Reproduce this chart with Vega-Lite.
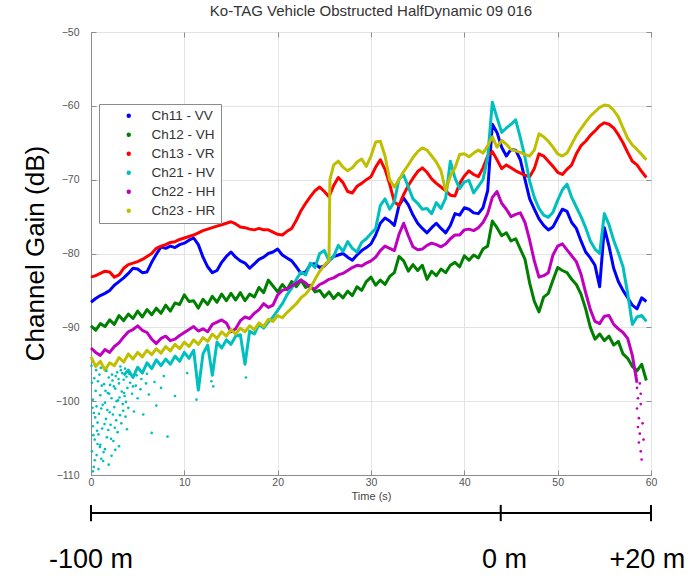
{
"$schema":"https://vega.github.io/schema/vega-lite/v6.json",
"width":560,"height":443,
"autosize":{"type":"none"},
"padding":{"left":91,"top":32,"right":39,"bottom":103},
"background":"white",
"title":{"text":"Ko-TAG Vehicle Obstructed HalfDynamic 09 016","fontSize":15,"font":"Liberation Sans","fontWeight":"normal","color":"#333333","frame":"group","anchor":"middle","offset":12,"baseline":"alphabetic","dy":16},
"config":{"view":{"stroke":"#8c8c8c","strokeWidth":1}},
"datasets":{
"lines":[
{"s":"Ch11 - VV","t":0,"g":-86.6},{"s":"Ch11 - VV","t":0.5,"g":-86.1},{"s":"Ch11 - VV","t":1,"g":-85.7},{"s":"Ch11 - VV","t":1.5,"g":-85.4},{"s":"Ch11 - VV","t":2,"g":-85.0},{"s":"Ch11 - VV","t":2.5,"g":-84.3},{"s":"Ch11 - VV","t":3,"g":-83.8},{"s":"Ch11 - VV","t":3.5,"g":-83.3},{"s":"Ch11 - VV","t":4,"g":-82.7},{"s":"Ch11 - VV","t":4.5,"g":-82.0},{"s":"Ch11 - VV","t":5,"g":-82.1},{"s":"Ch11 - VV","t":5.5,"g":-82.6},{"s":"Ch11 - VV","t":6,"g":-82.5},{"s":"Ch11 - VV","t":6.5,"g":-81.2},{"s":"Ch11 - VV","t":7,"g":-80.1},{"s":"Ch11 - VV","t":7.5,"g":-79.1},{"s":"Ch11 - VV","t":8,"g":-79.3},{"s":"Ch11 - VV","t":8.5,"g":-79.0},{"s":"Ch11 - VV","t":9,"g":-79.2},{"s":"Ch11 - VV","t":9.5,"g":-78.8},{"s":"Ch11 - VV","t":10,"g":-78.6},{"s":"Ch11 - VV","t":10.5,"g":-78.2},{"s":"Ch11 - VV","t":11,"g":-77.9},{"s":"Ch11 - VV","t":11.5,"g":-78.8},{"s":"Ch11 - VV","t":12,"g":-80.5},{"s":"Ch11 - VV","t":12.5,"g":-81.8},{"s":"Ch11 - VV","t":13,"g":-82.6},{"s":"Ch11 - VV","t":13.5,"g":-82.3},{"s":"Ch11 - VV","t":14,"g":-81.2},{"s":"Ch11 - VV","t":14.5,"g":-80.4},{"s":"Ch11 - VV","t":15,"g":-79.8},{"s":"Ch11 - VV","t":15.5,"g":-80.5},{"s":"Ch11 - VV","t":16,"g":-81.0},{"s":"Ch11 - VV","t":16.5,"g":-81.3},{"s":"Ch11 - VV","t":17,"g":-82.0},{"s":"Ch11 - VV","t":17.5,"g":-81.4},{"s":"Ch11 - VV","t":18,"g":-80.8},{"s":"Ch11 - VV","t":18.5,"g":-80.5},{"s":"Ch11 - VV","t":19,"g":-80.0},{"s":"Ch11 - VV","t":19.5,"g":-79.8},{"s":"Ch11 - VV","t":20,"g":-79.4},{"s":"Ch11 - VV","t":20.5,"g":-80.2},{"s":"Ch11 - VV","t":21,"g":-80.6},{"s":"Ch11 - VV","t":21.5,"g":-81.0},{"s":"Ch11 - VV","t":22,"g":-81.8},{"s":"Ch11 - VV","t":22.5,"g":-82.7},{"s":"Ch11 - VV","t":23,"g":-82.5},{"s":"Ch11 - VV","t":23.5,"g":-81.5},{"s":"Ch11 - VV","t":24,"g":-81.4},{"s":"Ch11 - VV","t":24.5,"g":-81.9},{"s":"Ch11 - VV","t":25,"g":-81.7},{"s":"Ch11 - VV","t":25.5,"g":-81.0},{"s":"Ch11 - VV","t":26,"g":-80.4},{"s":"Ch11 - VV","t":26.5,"g":-80.2},{"s":"Ch11 - VV","t":27,"g":-80.0},{"s":"Ch11 - VV","t":27.5,"g":-80.5},{"s":"Ch11 - VV","t":28,"g":-80.9},{"s":"Ch11 - VV","t":28.5,"g":-80.2},{"s":"Ch11 - VV","t":29,"g":-79.6},{"s":"Ch11 - VV","t":29.5,"g":-79.2},{"s":"Ch11 - VV","t":30,"g":-78.7},{"s":"Ch11 - VV","t":30.5,"g":-77.5},{"s":"Ch11 - VV","t":31,"g":-75.9},{"s":"Ch11 - VV","t":31.5,"g":-75.2},{"s":"Ch11 - VV","t":32,"g":-75.6},{"s":"Ch11 - VV","t":32.5,"g":-76.2},{"s":"Ch11 - VV","t":33,"g":-73.5},{"s":"Ch11 - VV","t":33.5,"g":-72.5},{"s":"Ch11 - VV","t":34,"g":-73.4},{"s":"Ch11 - VV","t":34.5,"g":-74.8},{"s":"Ch11 - VV","t":35,"g":-75.9},{"s":"Ch11 - VV","t":35.5,"g":-76.6},{"s":"Ch11 - VV","t":36,"g":-77.2},{"s":"Ch11 - VV","t":36.5,"g":-76.5},{"s":"Ch11 - VV","t":37,"g":-75.9},{"s":"Ch11 - VV","t":37.5,"g":-76.6},{"s":"Ch11 - VV","t":38,"g":-77.2},{"s":"Ch11 - VV","t":38.5,"g":-76.2},{"s":"Ch11 - VV","t":39,"g":-74.6},{"s":"Ch11 - VV","t":39.5,"g":-74.8},{"s":"Ch11 - VV","t":40,"g":-73.8},{"s":"Ch11 - VV","t":40.5,"g":-74.0},{"s":"Ch11 - VV","t":41,"g":-74.5},{"s":"Ch11 - VV","t":41.5,"g":-74.6},{"s":"Ch11 - VV","t":42,"g":-73.8},{"s":"Ch11 - VV","t":42.5,"g":-71.5},{"s":"Ch11 - VV","t":43,"g":-62.5},{"s":"Ch11 - VV","t":43.5,"g":-63.6},{"s":"Ch11 - VV","t":44,"g":-65.6},{"s":"Ch11 - VV","t":44.5,"g":-66.8},{"s":"Ch11 - VV","t":45,"g":-65.9},{"s":"Ch11 - VV","t":45.5,"g":-66.0},{"s":"Ch11 - VV","t":46,"g":-67.3},{"s":"Ch11 - VV","t":46.5,"g":-70.0},{"s":"Ch11 - VV","t":47,"g":-72.6},{"s":"Ch11 - VV","t":47.5,"g":-74.0},{"s":"Ch11 - VV","t":48,"g":-75.3},{"s":"Ch11 - VV","t":48.5,"g":-76.2},{"s":"Ch11 - VV","t":49,"g":-76.8},{"s":"Ch11 - VV","t":49.5,"g":-76.4},{"s":"Ch11 - VV","t":50,"g":-75.2},{"s":"Ch11 - VV","t":50.5,"g":-74.0},{"s":"Ch11 - VV","t":51,"g":-74.3},{"s":"Ch11 - VV","t":51.5,"g":-75.8},{"s":"Ch11 - VV","t":52,"g":-76.6},{"s":"Ch11 - VV","t":52.5,"g":-78.3},{"s":"Ch11 - VV","t":53,"g":-79.8},{"s":"Ch11 - VV","t":53.5,"g":-80.6},{"s":"Ch11 - VV","t":54,"g":-81.6},{"s":"Ch11 - VV","t":54.5,"g":-84.5},{"s":"Ch11 - VV","t":55,"g":-76.5},{"s":"Ch11 - VV","t":55.5,"g":-79.0},{"s":"Ch11 - VV","t":56,"g":-82.0},{"s":"Ch11 - VV","t":56.5,"g":-83.8},{"s":"Ch11 - VV","t":57,"g":-85.0},{"s":"Ch11 - VV","t":57.5,"g":-86.0},{"s":"Ch11 - VV","t":58,"g":-87.0},{"s":"Ch11 - VV","t":58.5,"g":-87.5},{"s":"Ch11 - VV","t":59,"g":-86.0},{"s":"Ch11 - VV","t":59.5,"g":-86.5},
{"s":"Ch12 - VH","t":0,"g":-89.8},{"s":"Ch12 - VH","t":0.5,"g":-90.4},{"s":"Ch12 - VH","t":1,"g":-89.5},{"s":"Ch12 - VH","t":1.5,"g":-89.9},{"s":"Ch12 - VH","t":2,"g":-89.0},{"s":"Ch12 - VH","t":2.5,"g":-89.6},{"s":"Ch12 - VH","t":3,"g":-88.4},{"s":"Ch12 - VH","t":3.5,"g":-89.1},{"s":"Ch12 - VH","t":4,"g":-88.2},{"s":"Ch12 - VH","t":4.5,"g":-88.8},{"s":"Ch12 - VH","t":5,"g":-87.8},{"s":"Ch12 - VH","t":5.5,"g":-88.6},{"s":"Ch12 - VH","t":6,"g":-87.6},{"s":"Ch12 - VH","t":6.5,"g":-88.3},{"s":"Ch12 - VH","t":7,"g":-87.4},{"s":"Ch12 - VH","t":7.5,"g":-88.1},{"s":"Ch12 - VH","t":8,"g":-87.0},{"s":"Ch12 - VH","t":8.5,"g":-87.8},{"s":"Ch12 - VH","t":9,"g":-86.7},{"s":"Ch12 - VH","t":9.5,"g":-86.9},{"s":"Ch12 - VH","t":10,"g":-85.6},{"s":"Ch12 - VH","t":10.5,"g":-86.5},{"s":"Ch12 - VH","t":11,"g":-86.4},{"s":"Ch12 - VH","t":11.5,"g":-87.4},{"s":"Ch12 - VH","t":12,"g":-86.2},{"s":"Ch12 - VH","t":12.5,"g":-86.9},{"s":"Ch12 - VH","t":13,"g":-85.8},{"s":"Ch12 - VH","t":13.5,"g":-86.6},{"s":"Ch12 - VH","t":14,"g":-85.5},{"s":"Ch12 - VH","t":14.5,"g":-86.4},{"s":"Ch12 - VH","t":15,"g":-85.4},{"s":"Ch12 - VH","t":15.5,"g":-86.3},{"s":"Ch12 - VH","t":16,"g":-85.3},{"s":"Ch12 - VH","t":16.5,"g":-86.4},{"s":"Ch12 - VH","t":17,"g":-85.5},{"s":"Ch12 - VH","t":17.5,"g":-85.9},{"s":"Ch12 - VH","t":18,"g":-84.6},{"s":"Ch12 - VH","t":18.5,"g":-85.3},{"s":"Ch12 - VH","t":19,"g":-83.6},{"s":"Ch12 - VH","t":19.5,"g":-84.4},{"s":"Ch12 - VH","t":20,"g":-85.2},{"s":"Ch12 - VH","t":20.5,"g":-84.2},{"s":"Ch12 - VH","t":21,"g":-84.9},{"s":"Ch12 - VH","t":21.5,"g":-83.8},{"s":"Ch12 - VH","t":22,"g":-84.5},{"s":"Ch12 - VH","t":22.5,"g":-83.6},{"s":"Ch12 - VH","t":23,"g":-84.6},{"s":"Ch12 - VH","t":23.5,"g":-84.3},{"s":"Ch12 - VH","t":24,"g":-85.2},{"s":"Ch12 - VH","t":24.5,"g":-85.0},{"s":"Ch12 - VH","t":25,"g":-85.9},{"s":"Ch12 - VH","t":25.5,"g":-85.2},{"s":"Ch12 - VH","t":26,"g":-86.1},{"s":"Ch12 - VH","t":26.5,"g":-85.4},{"s":"Ch12 - VH","t":27,"g":-86.0},{"s":"Ch12 - VH","t":27.5,"g":-85.1},{"s":"Ch12 - VH","t":28,"g":-85.7},{"s":"Ch12 - VH","t":28.5,"g":-84.5},{"s":"Ch12 - VH","t":29,"g":-85.0},{"s":"Ch12 - VH","t":29.5,"g":-83.8},{"s":"Ch12 - VH","t":30,"g":-83.2},{"s":"Ch12 - VH","t":30.5,"g":-84.3},{"s":"Ch12 - VH","t":31,"g":-83.6},{"s":"Ch12 - VH","t":31.5,"g":-84.2},{"s":"Ch12 - VH","t":32,"g":-83.1},{"s":"Ch12 - VH","t":32.5,"g":-82.6},{"s":"Ch12 - VH","t":33,"g":-80.4},{"s":"Ch12 - VH","t":33.5,"g":-81.0},{"s":"Ch12 - VH","t":34,"g":-82.4},{"s":"Ch12 - VH","t":34.5,"g":-81.5},{"s":"Ch12 - VH","t":35,"g":-82.3},{"s":"Ch12 - VH","t":35.5,"g":-81.6},{"s":"Ch12 - VH","t":36,"g":-83.5},{"s":"Ch12 - VH","t":36.5,"g":-82.4},{"s":"Ch12 - VH","t":37,"g":-83.0},{"s":"Ch12 - VH","t":37.5,"g":-82.1},{"s":"Ch12 - VH","t":38,"g":-82.6},{"s":"Ch12 - VH","t":38.5,"g":-81.6},{"s":"Ch12 - VH","t":39,"g":-81.2},{"s":"Ch12 - VH","t":39.5,"g":-81.8},{"s":"Ch12 - VH","t":40,"g":-80.3},{"s":"Ch12 - VH","t":40.5,"g":-80.9},{"s":"Ch12 - VH","t":41,"g":-80.2},{"s":"Ch12 - VH","t":41.5,"g":-80.6},{"s":"Ch12 - VH","t":42,"g":-79.4},{"s":"Ch12 - VH","t":42.5,"g":-79.0},{"s":"Ch12 - VH","t":43,"g":-75.6},{"s":"Ch12 - VH","t":43.5,"g":-76.5},{"s":"Ch12 - VH","t":44,"g":-77.6},{"s":"Ch12 - VH","t":44.5,"g":-77.2},{"s":"Ch12 - VH","t":45,"g":-78.3},{"s":"Ch12 - VH","t":45.5,"g":-78.0},{"s":"Ch12 - VH","t":46,"g":-79.4},{"s":"Ch12 - VH","t":46.5,"g":-80.8},{"s":"Ch12 - VH","t":47,"g":-84.0},{"s":"Ch12 - VH","t":47.5,"g":-86.5},{"s":"Ch12 - VH","t":48,"g":-87.9},{"s":"Ch12 - VH","t":48.5,"g":-85.9},{"s":"Ch12 - VH","t":49,"g":-85.4},{"s":"Ch12 - VH","t":49.5,"g":-83.6},{"s":"Ch12 - VH","t":50,"g":-81.9},{"s":"Ch12 - VH","t":50.5,"g":-82.3},{"s":"Ch12 - VH","t":51,"g":-82.6},{"s":"Ch12 - VH","t":51.5,"g":-83.5},{"s":"Ch12 - VH","t":52,"g":-84.2},{"s":"Ch12 - VH","t":52.5,"g":-85.5},{"s":"Ch12 - VH","t":53,"g":-87.5},{"s":"Ch12 - VH","t":53.5,"g":-90.0},{"s":"Ch12 - VH","t":54,"g":-91.6},{"s":"Ch12 - VH","t":54.5,"g":-90.9},{"s":"Ch12 - VH","t":55,"g":-91.8},{"s":"Ch12 - VH","t":55.5,"g":-91.2},{"s":"Ch12 - VH","t":56,"g":-92.4},{"s":"Ch12 - VH","t":56.5,"g":-91.9},{"s":"Ch12 - VH","t":57,"g":-93.6},{"s":"Ch12 - VH","t":57.5,"g":-94.2},{"s":"Ch12 - VH","t":58,"g":-95.3},{"s":"Ch12 - VH","t":58.5,"g":-95.9},{"s":"Ch12 - VH","t":59,"g":-95.0},{"s":"Ch12 - VH","t":59.5,"g":-97.2},
{"s":"Ch13 - VR","t":0,"g":-83.2},{"s":"Ch13 - VR","t":0.5,"g":-83.0},{"s":"Ch13 - VR","t":1,"g":-82.7},{"s":"Ch13 - VR","t":1.5,"g":-82.4},{"s":"Ch13 - VR","t":2,"g":-82.5},{"s":"Ch13 - VR","t":2.5,"g":-83.2},{"s":"Ch13 - VR","t":3,"g":-82.9},{"s":"Ch13 - VR","t":3.5,"g":-82.0},{"s":"Ch13 - VR","t":4,"g":-81.5},{"s":"Ch13 - VR","t":4.5,"g":-81.3},{"s":"Ch13 - VR","t":5,"g":-81.1},{"s":"Ch13 - VR","t":5.5,"g":-80.8},{"s":"Ch13 - VR","t":6,"g":-80.4},{"s":"Ch13 - VR","t":6.5,"g":-80.0},{"s":"Ch13 - VR","t":7,"g":-79.3},{"s":"Ch13 - VR","t":7.5,"g":-79.0},{"s":"Ch13 - VR","t":8,"g":-78.8},{"s":"Ch13 - VR","t":8.5,"g":-78.5},{"s":"Ch13 - VR","t":9,"g":-78.4},{"s":"Ch13 - VR","t":9.5,"g":-78.1},{"s":"Ch13 - VR","t":10,"g":-77.9},{"s":"Ch13 - VR","t":10.5,"g":-77.7},{"s":"Ch13 - VR","t":11,"g":-77.5},{"s":"Ch13 - VR","t":11.5,"g":-77.2},{"s":"Ch13 - VR","t":12,"g":-76.9},{"s":"Ch13 - VR","t":12.5,"g":-76.7},{"s":"Ch13 - VR","t":13,"g":-76.5},{"s":"Ch13 - VR","t":13.5,"g":-76.3},{"s":"Ch13 - VR","t":14,"g":-76.1},{"s":"Ch13 - VR","t":14.5,"g":-75.9},{"s":"Ch13 - VR","t":15,"g":-75.7},{"s":"Ch13 - VR","t":15.5,"g":-76.0},{"s":"Ch13 - VR","t":16,"g":-76.4},{"s":"Ch13 - VR","t":16.5,"g":-76.5},{"s":"Ch13 - VR","t":17,"g":-76.7},{"s":"Ch13 - VR","t":17.5,"g":-76.8},{"s":"Ch13 - VR","t":18,"g":-76.6},{"s":"Ch13 - VR","t":18.5,"g":-76.8},{"s":"Ch13 - VR","t":19,"g":-76.8},{"s":"Ch13 - VR","t":19.5,"g":-77.1},{"s":"Ch13 - VR","t":20,"g":-77.4},{"s":"Ch13 - VR","t":20.5,"g":-77.5},{"s":"Ch13 - VR","t":21,"g":-77.0},{"s":"Ch13 - VR","t":21.5,"g":-76.6},{"s":"Ch13 - VR","t":22,"g":-75.5},{"s":"Ch13 - VR","t":22.5,"g":-74.2},{"s":"Ch13 - VR","t":23,"g":-73.2},{"s":"Ch13 - VR","t":23.5,"g":-72.3},{"s":"Ch13 - VR","t":24,"g":-71.5},{"s":"Ch13 - VR","t":24.5,"g":-71.0},{"s":"Ch13 - VR","t":25,"g":-71.6},{"s":"Ch13 - VR","t":25.5,"g":-72.3},{"s":"Ch13 - VR","t":26,"g":-70.8},{"s":"Ch13 - VR","t":26.5,"g":-69.7},{"s":"Ch13 - VR","t":27,"g":-70.4},{"s":"Ch13 - VR","t":27.5,"g":-71.6},{"s":"Ch13 - VR","t":28,"g":-71.8},{"s":"Ch13 - VR","t":28.5,"g":-70.9},{"s":"Ch13 - VR","t":29,"g":-70.5},{"s":"Ch13 - VR","t":29.5,"g":-70.0},{"s":"Ch13 - VR","t":30,"g":-69.6},{"s":"Ch13 - VR","t":30.5,"g":-68.3},{"s":"Ch13 - VR","t":31,"g":-67.3},{"s":"Ch13 - VR","t":31.5,"g":-68.6},{"s":"Ch13 - VR","t":32,"g":-70.6},{"s":"Ch13 - VR","t":32.5,"g":-73.0},{"s":"Ch13 - VR","t":33,"g":-73.5},{"s":"Ch13 - VR","t":33.5,"g":-72.0},{"s":"Ch13 - VR","t":34,"g":-70.8},{"s":"Ch13 - VR","t":34.5,"g":-69.8},{"s":"Ch13 - VR","t":35,"g":-68.9},{"s":"Ch13 - VR","t":35.5,"g":-68.4},{"s":"Ch13 - VR","t":36,"g":-69.0},{"s":"Ch13 - VR","t":36.5,"g":-69.9},{"s":"Ch13 - VR","t":37,"g":-70.5},{"s":"Ch13 - VR","t":37.5,"g":-71.0},{"s":"Ch13 - VR","t":38,"g":-71.5},{"s":"Ch13 - VR","t":38.5,"g":-72.1},{"s":"Ch13 - VR","t":39,"g":-72.2},{"s":"Ch13 - VR","t":39.5,"g":-70.5},{"s":"Ch13 - VR","t":40,"g":-69.5},{"s":"Ch13 - VR","t":40.5,"g":-68.8},{"s":"Ch13 - VR","t":41,"g":-69.3},{"s":"Ch13 - VR","t":41.5,"g":-69.6},{"s":"Ch13 - VR","t":42,"g":-68.4},{"s":"Ch13 - VR","t":42.5,"g":-66.8},{"s":"Ch13 - VR","t":43,"g":-66.2},{"s":"Ch13 - VR","t":43.5,"g":-67.3},{"s":"Ch13 - VR","t":44,"g":-68.5},{"s":"Ch13 - VR","t":44.5,"g":-68.0},{"s":"Ch13 - VR","t":45,"g":-68.4},{"s":"Ch13 - VR","t":45.5,"g":-68.8},{"s":"Ch13 - VR","t":46,"g":-69.1},{"s":"Ch13 - VR","t":46.5,"g":-69.4},{"s":"Ch13 - VR","t":47,"g":-69.6},{"s":"Ch13 - VR","t":47.5,"g":-68.5},{"s":"Ch13 - VR","t":48,"g":-66.5},{"s":"Ch13 - VR","t":48.5,"g":-66.8},{"s":"Ch13 - VR","t":49,"g":-67.5},{"s":"Ch13 - VR","t":49.5,"g":-68.2},{"s":"Ch13 - VR","t":50,"g":-69.0},{"s":"Ch13 - VR","t":50.5,"g":-69.3},{"s":"Ch13 - VR","t":51,"g":-68.6},{"s":"Ch13 - VR","t":51.5,"g":-68.0},{"s":"Ch13 - VR","t":52,"g":-66.5},{"s":"Ch13 - VR","t":52.5,"g":-65.4},{"s":"Ch13 - VR","t":53,"g":-64.8},{"s":"Ch13 - VR","t":53.5,"g":-64.0},{"s":"Ch13 - VR","t":54,"g":-63.4},{"s":"Ch13 - VR","t":54.5,"g":-62.7},{"s":"Ch13 - VR","t":55,"g":-62.3},{"s":"Ch13 - VR","t":55.5,"g":-62.5},{"s":"Ch13 - VR","t":56,"g":-63.0},{"s":"Ch13 - VR","t":56.5,"g":-63.9},{"s":"Ch13 - VR","t":57,"g":-65.0},{"s":"Ch13 - VR","t":57.5,"g":-66.3},{"s":"Ch13 - VR","t":58,"g":-67.5},{"s":"Ch13 - VR","t":58.5,"g":-68.0},{"s":"Ch13 - VR","t":59,"g":-68.9},{"s":"Ch13 - VR","t":59.5,"g":-69.7},
{"s":"Ch21 - HV","t":3.5,"g":-96.5},{"s":"Ch21 - HV","t":4,"g":-95.8},{"s":"Ch21 - HV","t":4.5,"g":-96.8},{"s":"Ch21 - HV","t":5,"g":-95.4},{"s":"Ch21 - HV","t":5.5,"g":-96.2},{"s":"Ch21 - HV","t":6,"g":-94.8},{"s":"Ch21 - HV","t":6.5,"g":-95.6},{"s":"Ch21 - HV","t":7,"g":-94.4},{"s":"Ch21 - HV","t":7.5,"g":-95.2},{"s":"Ch21 - HV","t":8,"g":-94.3},{"s":"Ch21 - HV","t":8.5,"g":-95.0},{"s":"Ch21 - HV","t":9,"g":-93.9},{"s":"Ch21 - HV","t":9.5,"g":-94.6},{"s":"Ch21 - HV","t":10,"g":-93.4},{"s":"Ch21 - HV","t":10.5,"g":-94.2},{"s":"Ch21 - HV","t":11,"g":-93.1},{"s":"Ch21 - HV","t":11.5,"g":-98.5},{"s":"Ch21 - HV","t":12,"g":-93.6},{"s":"Ch21 - HV","t":12.5,"g":-92.4},{"s":"Ch21 - HV","t":13,"g":-96.5},{"s":"Ch21 - HV","t":13.5,"g":-92.0},{"s":"Ch21 - HV","t":14,"g":-92.8},{"s":"Ch21 - HV","t":14.5,"g":-91.7},{"s":"Ch21 - HV","t":15,"g":-92.3},{"s":"Ch21 - HV","t":15.5,"g":-91.2},{"s":"Ch21 - HV","t":16,"g":-91.0},{"s":"Ch21 - HV","t":16.5,"g":-95.0},{"s":"Ch21 - HV","t":17,"g":-90.5},{"s":"Ch21 - HV","t":17.5,"g":-90.9},{"s":"Ch21 - HV","t":18,"g":-89.6},{"s":"Ch21 - HV","t":18.5,"g":-90.1},{"s":"Ch21 - HV","t":19,"g":-89.3},{"s":"Ch21 - HV","t":19.5,"g":-88.6},{"s":"Ch21 - HV","t":20,"g":-87.7},{"s":"Ch21 - HV","t":20.5,"g":-86.8},{"s":"Ch21 - HV","t":21,"g":-85.6},{"s":"Ch21 - HV","t":21.5,"g":-84.7},{"s":"Ch21 - HV","t":22,"g":-83.5},{"s":"Ch21 - HV","t":22.5,"g":-82.5},{"s":"Ch21 - HV","t":23,"g":-82.9},{"s":"Ch21 - HV","t":23.5,"g":-81.3},{"s":"Ch21 - HV","t":24,"g":-81.9},{"s":"Ch21 - HV","t":24.5,"g":-80.0},{"s":"Ch21 - HV","t":25,"g":-79.6},{"s":"Ch21 - HV","t":25.5,"g":-81.0},{"s":"Ch21 - HV","t":26,"g":-80.4},{"s":"Ch21 - HV","t":26.5,"g":-78.9},{"s":"Ch21 - HV","t":27,"g":-79.7},{"s":"Ch21 - HV","t":27.5,"g":-78.4},{"s":"Ch21 - HV","t":28,"g":-79.3},{"s":"Ch21 - HV","t":28.5,"g":-79.8},{"s":"Ch21 - HV","t":29,"g":-78.5},{"s":"Ch21 - HV","t":29.5,"g":-78.0},{"s":"Ch21 - HV","t":30,"g":-77.3},{"s":"Ch21 - HV","t":30.5,"g":-76.6},{"s":"Ch21 - HV","t":31,"g":-73.5},{"s":"Ch21 - HV","t":31.5,"g":-72.6},{"s":"Ch21 - HV","t":32,"g":-74.0},{"s":"Ch21 - HV","t":32.5,"g":-73.0},{"s":"Ch21 - HV","t":33,"g":-69.9},{"s":"Ch21 - HV","t":33.5,"g":-69.4},{"s":"Ch21 - HV","t":34,"g":-71.0},{"s":"Ch21 - HV","t":34.5,"g":-72.6},{"s":"Ch21 - HV","t":35,"g":-73.2},{"s":"Ch21 - HV","t":35.5,"g":-74.0},{"s":"Ch21 - HV","t":36,"g":-73.9},{"s":"Ch21 - HV","t":36.5,"g":-74.6},{"s":"Ch21 - HV","t":37,"g":-73.1},{"s":"Ch21 - HV","t":37.5,"g":-73.9},{"s":"Ch21 - HV","t":38,"g":-72.5},{"s":"Ch21 - HV","t":38.5,"g":-67.5},{"s":"Ch21 - HV","t":39,"g":-69.8},{"s":"Ch21 - HV","t":39.5,"g":-71.2},{"s":"Ch21 - HV","t":40,"g":-70.3},{"s":"Ch21 - HV","t":40.5,"g":-70.1},{"s":"Ch21 - HV","t":41,"g":-71.8},{"s":"Ch21 - HV","t":41.5,"g":-70.9},{"s":"Ch21 - HV","t":42,"g":-70.0},{"s":"Ch21 - HV","t":42.5,"g":-67.0},{"s":"Ch21 - HV","t":43,"g":-59.5},{"s":"Ch21 - HV","t":43.5,"g":-61.6},{"s":"Ch21 - HV","t":44,"g":-63.6},{"s":"Ch21 - HV","t":44.5,"g":-63.0},{"s":"Ch21 - HV","t":45,"g":-62.5},{"s":"Ch21 - HV","t":45.5,"g":-61.9},{"s":"Ch21 - HV","t":46,"g":-64.3},{"s":"Ch21 - HV","t":46.5,"g":-67.0},{"s":"Ch21 - HV","t":47,"g":-70.2},{"s":"Ch21 - HV","t":47.5,"g":-72.4},{"s":"Ch21 - HV","t":48,"g":-73.9},{"s":"Ch21 - HV","t":48.5,"g":-74.8},{"s":"Ch21 - HV","t":49,"g":-75.1},{"s":"Ch21 - HV","t":49.5,"g":-74.4},{"s":"Ch21 - HV","t":50,"g":-72.8},{"s":"Ch21 - HV","t":50.5,"g":-71.4},{"s":"Ch21 - HV","t":51,"g":-70.6},{"s":"Ch21 - HV","t":51.5,"g":-72.4},{"s":"Ch21 - HV","t":52,"g":-73.7},{"s":"Ch21 - HV","t":52.5,"g":-75.0},{"s":"Ch21 - HV","t":53,"g":-76.5},{"s":"Ch21 - HV","t":53.5,"g":-78.3},{"s":"Ch21 - HV","t":54,"g":-79.4},{"s":"Ch21 - HV","t":54.5,"g":-80.0},{"s":"Ch21 - HV","t":55,"g":-74.6},{"s":"Ch21 - HV","t":55.5,"g":-76.1},{"s":"Ch21 - HV","t":56,"g":-78.2},{"s":"Ch21 - HV","t":56.5,"g":-79.9},{"s":"Ch21 - HV","t":57,"g":-81.8},{"s":"Ch21 - HV","t":57.5,"g":-85.4},{"s":"Ch21 - HV","t":58,"g":-89.6},{"s":"Ch21 - HV","t":58.5,"g":-88.6},{"s":"Ch21 - HV","t":59,"g":-88.4},{"s":"Ch21 - HV","t":59.5,"g":-89.2},
{"s":"Ch22 - HH","t":0,"g":-92.8},{"s":"Ch22 - HH","t":0.5,"g":-93.4},{"s":"Ch22 - HH","t":1,"g":-93.8},{"s":"Ch22 - HH","t":1.5,"g":-93.0},{"s":"Ch22 - HH","t":2,"g":-93.4},{"s":"Ch22 - HH","t":2.5,"g":-92.6},{"s":"Ch22 - HH","t":3,"g":-92.1},{"s":"Ch22 - HH","t":3.5,"g":-91.3},{"s":"Ch22 - HH","t":4,"g":-90.6},{"s":"Ch22 - HH","t":4.5,"g":-90.3},{"s":"Ch22 - HH","t":5,"g":-89.8},{"s":"Ch22 - HH","t":5.5,"g":-90.4},{"s":"Ch22 - HH","t":6,"g":-90.7},{"s":"Ch22 - HH","t":6.5,"g":-91.6},{"s":"Ch22 - HH","t":7,"g":-92.2},{"s":"Ch22 - HH","t":7.5,"g":-91.5},{"s":"Ch22 - HH","t":8,"g":-91.2},{"s":"Ch22 - HH","t":8.5,"g":-91.8},{"s":"Ch22 - HH","t":9,"g":-91.6},{"s":"Ch22 - HH","t":9.5,"g":-91.1},{"s":"Ch22 - HH","t":10,"g":-90.7},{"s":"Ch22 - HH","t":10.5,"g":-90.3},{"s":"Ch22 - HH","t":11,"g":-89.9},{"s":"Ch22 - HH","t":11.5,"g":-90.5},{"s":"Ch22 - HH","t":12,"g":-90.2},{"s":"Ch22 - HH","t":12.5,"g":-90.6},{"s":"Ch22 - HH","t":13,"g":-89.6},{"s":"Ch22 - HH","t":13.5,"g":-89.3},{"s":"Ch22 - HH","t":14,"g":-89.0},{"s":"Ch22 - HH","t":14.5,"g":-89.4},{"s":"Ch22 - HH","t":15,"g":-90.6},{"s":"Ch22 - HH","t":15.5,"g":-90.2},{"s":"Ch22 - HH","t":16,"g":-89.1},{"s":"Ch22 - HH","t":16.5,"g":-88.6},{"s":"Ch22 - HH","t":17,"g":-88.8},{"s":"Ch22 - HH","t":17.5,"g":-88.1},{"s":"Ch22 - HH","t":18,"g":-87.6},{"s":"Ch22 - HH","t":18.5,"g":-86.8},{"s":"Ch22 - HH","t":19,"g":-87.3},{"s":"Ch22 - HH","t":19.5,"g":-87.0},{"s":"Ch22 - HH","t":20,"g":-85.6},{"s":"Ch22 - HH","t":20.5,"g":-85.0},{"s":"Ch22 - HH","t":21,"g":-84.8},{"s":"Ch22 - HH","t":21.5,"g":-84.4},{"s":"Ch22 - HH","t":22,"g":-84.0},{"s":"Ch22 - HH","t":22.5,"g":-83.6},{"s":"Ch22 - HH","t":23,"g":-84.0},{"s":"Ch22 - HH","t":23.5,"g":-84.6},{"s":"Ch22 - HH","t":24,"g":-84.8},{"s":"Ch22 - HH","t":24.5,"g":-84.2},{"s":"Ch22 - HH","t":25,"g":-83.9},{"s":"Ch22 - HH","t":25.5,"g":-83.5},{"s":"Ch22 - HH","t":26,"g":-83.3},{"s":"Ch22 - HH","t":26.5,"g":-82.9},{"s":"Ch22 - HH","t":27,"g":-82.7},{"s":"Ch22 - HH","t":27.5,"g":-82.3},{"s":"Ch22 - HH","t":28,"g":-81.9},{"s":"Ch22 - HH","t":28.5,"g":-81.6},{"s":"Ch22 - HH","t":29,"g":-81.7},{"s":"Ch22 - HH","t":29.5,"g":-81.3},{"s":"Ch22 - HH","t":30,"g":-81.0},{"s":"Ch22 - HH","t":30.5,"g":-80.5},{"s":"Ch22 - HH","t":31,"g":-79.6},{"s":"Ch22 - HH","t":31.5,"g":-79.0},{"s":"Ch22 - HH","t":32,"g":-79.3},{"s":"Ch22 - HH","t":32.5,"g":-79.6},{"s":"Ch22 - HH","t":33,"g":-77.4},{"s":"Ch22 - HH","t":33.5,"g":-75.9},{"s":"Ch22 - HH","t":34,"g":-77.6},{"s":"Ch22 - HH","t":34.5,"g":-79.1},{"s":"Ch22 - HH","t":35,"g":-79.5},{"s":"Ch22 - HH","t":35.5,"g":-79.4},{"s":"Ch22 - HH","t":36,"g":-78.9},{"s":"Ch22 - HH","t":36.5,"g":-78.6},{"s":"Ch22 - HH","t":37,"g":-78.8},{"s":"Ch22 - HH","t":37.5,"g":-79.1},{"s":"Ch22 - HH","t":38,"g":-78.7},{"s":"Ch22 - HH","t":38.5,"g":-78.0},{"s":"Ch22 - HH","t":39,"g":-77.5},{"s":"Ch22 - HH","t":39.5,"g":-77.5},{"s":"Ch22 - HH","t":40,"g":-76.8},{"s":"Ch22 - HH","t":40.5,"g":-76.7},{"s":"Ch22 - HH","t":41,"g":-76.9},{"s":"Ch22 - HH","t":41.5,"g":-76.5},{"s":"Ch22 - HH","t":42,"g":-75.8},{"s":"Ch22 - HH","t":42.5,"g":-74.6},{"s":"Ch22 - HH","t":43,"g":-72.4},{"s":"Ch22 - HH","t":43.5,"g":-71.6},{"s":"Ch22 - HH","t":44,"g":-73.2},{"s":"Ch22 - HH","t":44.5,"g":-74.0},{"s":"Ch22 - HH","t":45,"g":-75.0},{"s":"Ch22 - HH","t":45.5,"g":-74.7},{"s":"Ch22 - HH","t":46,"g":-74.5},{"s":"Ch22 - HH","t":46.5,"g":-75.8},{"s":"Ch22 - HH","t":47,"g":-78.2},{"s":"Ch22 - HH","t":47.5,"g":-81.0},{"s":"Ch22 - HH","t":48,"g":-83.2},{"s":"Ch22 - HH","t":48.5,"g":-83.0},{"s":"Ch22 - HH","t":49,"g":-82.6},{"s":"Ch22 - HH","t":49.5,"g":-80.2},{"s":"Ch22 - HH","t":50,"g":-79.0},{"s":"Ch22 - HH","t":50.5,"g":-78.7},{"s":"Ch22 - HH","t":51,"g":-79.5},{"s":"Ch22 - HH","t":51.5,"g":-80.3},{"s":"Ch22 - HH","t":52,"g":-81.1},{"s":"Ch22 - HH","t":52.5,"g":-82.8},{"s":"Ch22 - HH","t":53,"g":-85.3},{"s":"Ch22 - HH","t":53.5,"g":-87.6},{"s":"Ch22 - HH","t":54,"g":-89.2},{"s":"Ch22 - HH","t":54.5,"g":-89.5},{"s":"Ch22 - HH","t":55,"g":-88.5},{"s":"Ch22 - HH","t":55.5,"g":-88.4},{"s":"Ch22 - HH","t":56,"g":-89.6},{"s":"Ch22 - HH","t":56.5,"g":-90.2},{"s":"Ch22 - HH","t":57,"g":-90.7},{"s":"Ch22 - HH","t":57.5,"g":-91.5},{"s":"Ch22 - HH","t":58,"g":-93.8},{"s":"Ch22 - HH","t":58.5,"g":-97.5},
{"s":"Ch23 - HR","t":0,"g":-94.0},{"s":"Ch23 - HR","t":0.5,"g":-95.3},{"s":"Ch23 - HR","t":1,"g":-94.6},{"s":"Ch23 - HR","t":1.5,"g":-95.8},{"s":"Ch23 - HR","t":2,"g":-94.8},{"s":"Ch23 - HR","t":2.5,"g":-95.2},{"s":"Ch23 - HR","t":3,"g":-94.1},{"s":"Ch23 - HR","t":3.5,"g":-94.7},{"s":"Ch23 - HR","t":4,"g":-93.6},{"s":"Ch23 - HR","t":4.5,"g":-94.3},{"s":"Ch23 - HR","t":5,"g":-93.4},{"s":"Ch23 - HR","t":5.5,"g":-94.0},{"s":"Ch23 - HR","t":6,"g":-93.1},{"s":"Ch23 - HR","t":6.5,"g":-93.7},{"s":"Ch23 - HR","t":7,"g":-92.9},{"s":"Ch23 - HR","t":7.5,"g":-93.5},{"s":"Ch23 - HR","t":8,"g":-92.6},{"s":"Ch23 - HR","t":8.5,"g":-93.2},{"s":"Ch23 - HR","t":9,"g":-92.3},{"s":"Ch23 - HR","t":9.5,"g":-92.9},{"s":"Ch23 - HR","t":10,"g":-92.0},{"s":"Ch23 - HR","t":10.5,"g":-92.6},{"s":"Ch23 - HR","t":11,"g":-91.7},{"s":"Ch23 - HR","t":11.5,"g":-92.3},{"s":"Ch23 - HR","t":12,"g":-91.4},{"s":"Ch23 - HR","t":12.5,"g":-91.9},{"s":"Ch23 - HR","t":13,"g":-90.9},{"s":"Ch23 - HR","t":13.5,"g":-91.5},{"s":"Ch23 - HR","t":14,"g":-90.6},{"s":"Ch23 - HR","t":14.5,"g":-91.2},{"s":"Ch23 - HR","t":15,"g":-90.3},{"s":"Ch23 - HR","t":15.5,"g":-90.9},{"s":"Ch23 - HR","t":16,"g":-90.1},{"s":"Ch23 - HR","t":16.5,"g":-90.6},{"s":"Ch23 - HR","t":17,"g":-89.8},{"s":"Ch23 - HR","t":17.5,"g":-90.3},{"s":"Ch23 - HR","t":18,"g":-89.4},{"s":"Ch23 - HR","t":18.5,"g":-89.9},{"s":"Ch23 - HR","t":19,"g":-88.9},{"s":"Ch23 - HR","t":19.5,"g":-89.2},{"s":"Ch23 - HR","t":20,"g":-88.4},{"s":"Ch23 - HR","t":20.5,"g":-88.7},{"s":"Ch23 - HR","t":21,"g":-88.0},{"s":"Ch23 - HR","t":21.5,"g":-87.4},{"s":"Ch23 - HR","t":22,"g":-86.8},{"s":"Ch23 - HR","t":22.5,"g":-86.0},{"s":"Ch23 - HR","t":23,"g":-85.5},{"s":"Ch23 - HR","t":23.5,"g":-84.7},{"s":"Ch23 - HR","t":24,"g":-83.5},{"s":"Ch23 - HR","t":24.5,"g":-82.4},{"s":"Ch23 - HR","t":25,"g":-81.6},{"s":"Ch23 - HR","t":25.5,"g":-81.0},{"s":"Ch23 - HR","t":25.6,"g":-70.0},{"s":"Ch23 - HR","t":26,"g":-68.0},{"s":"Ch23 - HR","t":26.5,"g":-67.5},{"s":"Ch23 - HR","t":27,"g":-68.3},{"s":"Ch23 - HR","t":27.5,"g":-68.8},{"s":"Ch23 - HR","t":28,"g":-68.4},{"s":"Ch23 - HR","t":28.5,"g":-67.6},{"s":"Ch23 - HR","t":29,"g":-67.2},{"s":"Ch23 - HR","t":29.5,"g":-68.2},{"s":"Ch23 - HR","t":30,"g":-66.8},{"s":"Ch23 - HR","t":30.5,"g":-64.9},{"s":"Ch23 - HR","t":31,"g":-64.8},{"s":"Ch23 - HR","t":31.5,"g":-66.8},{"s":"Ch23 - HR","t":32,"g":-70.0},{"s":"Ch23 - HR","t":32.5,"g":-71.0},{"s":"Ch23 - HR","t":33,"g":-70.0},{"s":"Ch23 - HR","t":33.5,"g":-68.9},{"s":"Ch23 - HR","t":34,"g":-68.0},{"s":"Ch23 - HR","t":34.5,"g":-67.0},{"s":"Ch23 - HR","t":35,"g":-66.2},{"s":"Ch23 - HR","t":35.5,"g":-65.7},{"s":"Ch23 - HR","t":36,"g":-66.0},{"s":"Ch23 - HR","t":36.5,"g":-66.8},{"s":"Ch23 - HR","t":37,"g":-67.6},{"s":"Ch23 - HR","t":37.5,"g":-68.8},{"s":"Ch23 - HR","t":38,"g":-71.5},{"s":"Ch23 - HR","t":38.5,"g":-69.5},{"s":"Ch23 - HR","t":39,"g":-68.4},{"s":"Ch23 - HR","t":39.5,"g":-66.6},{"s":"Ch23 - HR","t":40,"g":-66.5},{"s":"Ch23 - HR","t":40.5,"g":-66.9},{"s":"Ch23 - HR","t":41,"g":-66.4},{"s":"Ch23 - HR","t":41.5,"g":-66.0},{"s":"Ch23 - HR","t":42,"g":-66.4},{"s":"Ch23 - HR","t":42.5,"g":-65.4},{"s":"Ch23 - HR","t":43,"g":-64.2},{"s":"Ch23 - HR","t":43.5,"g":-65.6},{"s":"Ch23 - HR","t":44,"g":-64.7},{"s":"Ch23 - HR","t":44.5,"g":-65.2},{"s":"Ch23 - HR","t":45,"g":-65.9},{"s":"Ch23 - HR","t":45.5,"g":-66.1},{"s":"Ch23 - HR","t":46,"g":-66.3},{"s":"Ch23 - HR","t":46.5,"g":-66.6},{"s":"Ch23 - HR","t":47,"g":-66.8},{"s":"Ch23 - HR","t":47.5,"g":-66.0},{"s":"Ch23 - HR","t":48,"g":-63.8},{"s":"Ch23 - HR","t":48.5,"g":-64.2},{"s":"Ch23 - HR","t":49,"g":-64.8},{"s":"Ch23 - HR","t":49.5,"g":-65.6},{"s":"Ch23 - HR","t":50,"g":-66.5},{"s":"Ch23 - HR","t":50.5,"g":-66.8},{"s":"Ch23 - HR","t":51,"g":-66.4},{"s":"Ch23 - HR","t":51.5,"g":-65.2},{"s":"Ch23 - HR","t":52,"g":-64.0},{"s":"Ch23 - HR","t":52.5,"g":-63.1},{"s":"Ch23 - HR","t":53,"g":-62.2},{"s":"Ch23 - HR","t":53.5,"g":-61.4},{"s":"Ch23 - HR","t":54,"g":-60.8},{"s":"Ch23 - HR","t":54.5,"g":-60.2},{"s":"Ch23 - HR","t":55,"g":-59.9},{"s":"Ch23 - HR","t":55.5,"g":-60.0},{"s":"Ch23 - HR","t":56,"g":-60.6},{"s":"Ch23 - HR","t":56.5,"g":-61.5},{"s":"Ch23 - HR","t":57,"g":-63.0},{"s":"Ch23 - HR","t":57.5,"g":-64.4},{"s":"Ch23 - HR","t":58,"g":-65.3},{"s":"Ch23 - HR","t":58.5,"g":-65.9},{"s":"Ch23 - HR","t":59,"g":-66.6},{"s":"Ch23 - HR","t":59.5,"g":-67.3}
],
"pts":[
{"s":"Ch21 - HV","t":0.1,"g":-97.5},{"s":"Ch21 - HV","t":0.2,"g":-99.8},{"s":"Ch21 - HV","t":0.3,"g":-101.6},{"s":"Ch21 - HV","t":0.2,"g":-103.4},{"s":"Ch21 - HV","t":0.4,"g":-105.2},{"s":"Ch21 - HV","t":0.1,"g":-106.8},{"s":"Ch21 - HV","t":0.5,"g":-98.6},{"s":"Ch21 - HV","t":0.6,"g":-100.7},{"s":"Ch21 - HV","t":0.7,"g":-102.9},{"s":"Ch21 - HV","t":0.8,"g":-104.5},{"s":"Ch21 - HV","t":0.6,"g":-107.3},{"s":"Ch21 - HV","t":0.9,"g":-96.4},{"s":"Ch21 - HV","t":1.0,"g":-99.2},{"s":"Ch21 - HV","t":1.1,"g":-101.0},{"s":"Ch21 - HV","t":1.2,"g":-103.7},{"s":"Ch21 - HV","t":1.0,"g":-105.9},{"s":"Ch21 - HV","t":1.3,"g":-108.1},{"s":"Ch21 - HV","t":1.4,"g":-97.7},{"s":"Ch21 - HV","t":1.5,"g":-100.2},{"s":"Ch21 - HV","t":1.6,"g":-102.4},{"s":"Ch21 - HV","t":1.7,"g":-104.9},{"s":"Ch21 - HV","t":1.5,"g":-106.5},{"s":"Ch21 - HV","t":1.8,"g":-98.9},{"s":"Ch21 - HV","t":1.9,"g":-96.8},{"s":"Ch21 - HV","t":2.0,"g":-101.5},{"s":"Ch21 - HV","t":2.1,"g":-103.2},{"s":"Ch21 - HV","t":2.2,"g":-99.6},{"s":"Ch21 - HV","t":2.3,"g":-97.2},{"s":"Ch21 - HV","t":2.4,"g":-105.4},{"s":"Ch21 - HV","t":2.5,"g":-100.8},{"s":"Ch21 - HV","t":2.6,"g":-98.3},{"s":"Ch21 - HV","t":2.7,"g":-102.6},{"s":"Ch21 - HV","t":2.8,"g":-96.1},{"s":"Ch21 - HV","t":2.9,"g":-99.9},{"s":"Ch21 - HV","t":3.0,"g":-97.6},{"s":"Ch21 - HV","t":3.1,"g":-101.9},{"s":"Ch21 - HV","t":3.2,"g":-95.8},{"s":"Ch21 - HV","t":3.3,"g":-98.7},{"s":"Ch21 - HV","t":3.4,"g":-100.4},{"s":"Ch21 - HV","t":3.5,"g":-97.1},{"s":"Ch21 - HV","t":3.6,"g":-99.3},{"s":"Ch21 - HV","t":3.7,"g":-102.1},{"s":"Ch21 - HV","t":3.8,"g":-96.7},{"s":"Ch21 - HV","t":3.9,"g":-98.2},{"s":"Ch21 - HV","t":4.0,"g":-100.9},{"s":"Ch21 - HV","t":4.2,"g":-97.5},{"s":"Ch21 - HV","t":4.4,"g":-99.0},{"s":"Ch21 - HV","t":4.6,"g":-101.4},{"s":"Ch21 - HV","t":4.8,"g":-97.9},{"s":"Ch21 - HV","t":5.0,"g":-99.6},{"s":"Ch21 - HV","t":5.3,"g":-98.4},{"s":"Ch21 - HV","t":5.6,"g":-101.8},{"s":"Ch21 - HV","t":5.9,"g":-97.6},{"s":"Ch21 - HV","t":6.2,"g":-99.1},{"s":"Ch21 - HV","t":6.5,"g":-104.3},{"s":"Ch21 - HV","t":7.0,"g":-100.6},{"s":"Ch21 - HV","t":7.5,"g":-98.2},{"s":"Ch21 - HV","t":8.2,"g":-104.8},{"s":"Ch21 - HV","t":9.0,"g":-99.3},{"s":"Ch21 - HV","t":0.3,"g":-108.9},{"s":"Ch21 - HV","t":0.8,"g":-109.2},{"s":"Ch21 - HV","t":2.2,"g":-107.4},{"s":"Ch21 - HV","t":3.0,"g":-106.1},
{"s":"Ch21 - HV","t":0.05,"g":-95.2},{"s":"Ch21 - HV","t":0.15,"g":-100.9},{"s":"Ch21 - HV","t":0.25,"g":-104.6},{"s":"Ch21 - HV","t":0.35,"g":-96.9},{"s":"Ch21 - HV","t":0.45,"g":-102.2},{"s":"Ch21 - HV","t":0.55,"g":-95.8},{"s":"Ch21 - HV","t":0.65,"g":-104.0},{"s":"Ch21 - HV","t":0.75,"g":-97.3},{"s":"Ch21 - HV","t":0.85,"g":-101.7},{"s":"Ch21 - HV","t":0.95,"g":-106.2},{"s":"Ch21 - HV","t":1.05,"g":-95.5},{"s":"Ch21 - HV","t":1.15,"g":-97.9},{"s":"Ch21 - HV","t":1.25,"g":-100.5},{"s":"Ch21 - HV","t":1.35,"g":-106.9},{"s":"Ch21 - HV","t":1.45,"g":-103.1},{"s":"Ch21 - HV","t":1.55,"g":-98.6},{"s":"Ch21 - HV","t":1.65,"g":-95.9},{"s":"Ch21 - HV","t":1.75,"g":-101.2},{"s":"Ch21 - HV","t":1.85,"g":-103.9},{"s":"Ch21 - HV","t":1.95,"g":-99.0},{"s":"Ch21 - HV","t":2.05,"g":-97.8},{"s":"Ch21 - HV","t":2.15,"g":-105.1},{"s":"Ch21 - HV","t":2.25,"g":-96.4},{"s":"Ch21 - HV","t":2.35,"g":-101.8},{"s":"Ch21 - HV","t":2.45,"g":-98.0},{"s":"Ch21 - HV","t":2.55,"g":-103.6},{"s":"Ch21 - HV","t":2.65,"g":-96.6},{"s":"Ch21 - HV","t":2.75,"g":-100.0},{"s":"Ch21 - HV","t":2.85,"g":-104.2},{"s":"Ch21 - HV","t":2.95,"g":-97.0},{"s":"Ch21 - HV","t":3.05,"g":-99.5},{"s":"Ch21 - HV","t":3.15,"g":-95.3},{"s":"Ch21 - HV","t":3.25,"g":-103.0},{"s":"Ch21 - HV","t":3.35,"g":-96.2},{"s":"Ch21 - HV","t":3.45,"g":-101.3},{"s":"Ch21 - HV","t":3.55,"g":-98.9},{"s":"Ch21 - HV","t":3.65,"g":-95.6},{"s":"Ch21 - HV","t":3.75,"g":-100.1},{"s":"Ch21 - HV","t":3.85,"g":-103.8},{"s":"Ch21 - HV","t":3.95,"g":-96.0},{"s":"Ch21 - HV","t":0.4,"g":-108.0},{"s":"Ch21 - HV","t":0.7,"g":-105.8},{"s":"Ch21 - HV","t":1.1,"g":-107.8},{"s":"Ch21 - HV","t":1.9,"g":-108.6},{"s":"Ch21 - HV","t":0.2,"g":-109.5},{"s":"Ch21 - HV","t":2.6,"g":-106.6},{"s":"Ch21 - HV","t":4.1,"g":-96.3},{"s":"Ch21 - HV","t":4.5,"g":-98.0},{"s":"Ch21 - HV","t":4.9,"g":-96.5},{"s":"Ch21 - HV","t":5.4,"g":-97.0},{"s":"Ch21 - HV","t":6.0,"g":-96.3},{"s":"Ch21 - HV","t":6.8,"g":-97.4},{"s":"Ch21 - HV","t":7.8,"g":-96.6},{"s":"Ch21 - HV","t":10.3,"g":-96.2},{"s":"Ch21 - HV","t":11.3,"g":-99.8},{"s":"Ch21 - HV","t":13.1,"g":-98.0},{"s":"Ch21 - HV","t":16.6,"g":-96.8},{"s":"Ch21 - HV","t":12.9,"g":-97.3},
{"s":"Ch22 - HH","t":58.4,"g":-96.5},{"s":"Ch22 - HH","t":58.5,"g":-98.2},{"s":"Ch22 - HH","t":58.6,"g":-99.6},{"s":"Ch22 - HH","t":58.5,"g":-101.0},{"s":"Ch22 - HH","t":58.7,"g":-102.3},{"s":"Ch22 - HH","t":58.6,"g":-103.5},{"s":"Ch22 - HH","t":58.8,"g":-104.4},{"s":"Ch22 - HH","t":58.7,"g":-105.6},{"s":"Ch22 - HH","t":58.9,"g":-106.8},{"s":"Ch22 - HH","t":59.0,"g":-107.9},{"s":"Ch22 - HH","t":58.9,"g":-100.4},{"s":"Ch22 - HH","t":59.1,"g":-103.0},{"s":"Ch22 - HH","t":58.8,"g":-97.6},{"s":"Ch22 - HH","t":59.2,"g":-105.2},{"s":"Ch22 - HH","t":58.9,"g":-99.0}
],
"bar":[{"x":0,"x2":60,"y":-115.15}],
"barticks":[{"x":0,"y":-114.05,"y2":-116.25},{"x":43.9,"y":-114.05,"y2":-116.25},{"x":60,"y":-114.05,"y2":-116.25}],
"lab":[{"x":0,"y":-121.5,"label":"-100 m"},{"x":44.3,"y":-121.5,"label":"0 m"},{"x":59.6,"y":-121.5,"label":"+20 m"}]
},
"layer":[
{"data":{"name":"lines"},
 "mark":{"type":"line","strokeWidth":3,"strokeJoin":"round"},
 "encoding":{
  "x":{"field":"t","type":"quantitative","scale":{"domain":[0,60],"nice":false,"zero":false},
       "axis":{"orient":"bottom","values":[0,10,20,30,40,50,60],"tickSize":-5,"labelPadding":7,"labelFontSize":10.5,"labelColor":"#555555","labelFont":"Liberation Sans","labelFlush":false,"labelOverlap":false,"grid":true,"gridColor":"#e3e3e3","domainColor":"#8c8c8c","tickColor":"#8c8c8c","title":"Time (s)","titleFontSize":11,"titleFontWeight":"normal","titleColor":"#444444","titleFont":"Liberation Sans","titleY":21,"titleBaseline":"middle"}},
  "y":{"field":"g","type":"quantitative","scale":{"domain":[-110,-50],"nice":false,"zero":false},
       "axis":{"orient":"left","values":[-110,-100,-90,-80,-70,-60,-50],"tickSize":-5,"labelPadding":17,"labelFontSize":10.5,"labelColor":"#555555","labelFont":"Liberation Sans","labelFlush":false,"labelOverlap":false,"grid":true,"gridColor":"#e3e3e3","domainColor":"#8c8c8c","tickColor":"#8c8c8c","title":"Channel Gain (dB)","titleFontSize":26,"titleFontWeight":"normal","titleColor":"#000000","titleFont":"Liberation Sans","titleX":-56,"titleY":221,"titleAngle":-90,"titleAlign":"center","titleBaseline":"middle"}},
  "color":{"field":"s","type":"nominal",
   "scale":{"domain":["Ch11 - VV","Ch12 - VH","Ch13 - VR","Ch21 - HV","Ch22 - HH","Ch23 - HR"],"range":["#0000ff","#008000","#ff0000","#00bfbf","#bf00bf","#bfbf00"]},
   "legend":{"orient":"none","legendX":8,"legendY":72,"title":null,"fillColor":"white","strokeColor":"#8c8c8c","padding":5,"labelFontSize":13.5,"labelFont":"Liberation Sans","labelColor":"#333333","symbolType":"circle","symbolSize":6,"symbolStrokeWidth":2,"symbolOffset":18,"labelOffset":16,"rowPadding":4}}
 }},
{"data":{"name":"pts"},
 "mark":{"type":"point","filled":true,"size":7,"opacity":1},
 "encoding":{
  "x":{"field":"t","type":"quantitative","scale":{"domain":[0,60],"nice":false,"zero":false},"axis":null},
  "y":{"field":"g","type":"quantitative","scale":{"domain":[-110,-50],"nice":false,"zero":false},"axis":null},
  "color":{"field":"s","type":"nominal",
   "scale":{"domain":["Ch11 - VV","Ch12 - VH","Ch13 - VR","Ch21 - HV","Ch22 - HH","Ch23 - HR"],"range":["#0000ff","#008000","#ff0000","#00bfbf","#bf00bf","#bfbf00"]},
   "legend":{"orient":"none","legendX":8,"legendY":72,"title":null,"fillColor":"white","strokeColor":"#8c8c8c","padding":5,"labelFontSize":13.5,"labelFont":"Liberation Sans","labelColor":"#333333","symbolType":"circle","symbolSize":6,"symbolStrokeWidth":2,"symbolOffset":18,"labelOffset":16,"rowPadding":4}}
 }},
{"data":{"name":"bar"},
 "mark":{"type":"rule","strokeWidth":2,"color":"#000000"},
 "encoding":{
  "x":{"field":"x","type":"quantitative","scale":{"domain":[0,60],"nice":false,"zero":false},
       "axis":{"orient":"top","values":[0,10,20,30,40,50,60],"tickSize":-5,"labels":false,"grid":false,"domain":false,"tickColor":"#8c8c8c","title":null}},
  "x2":{"field":"x2"},
  "y":{"field":"y","type":"quantitative","scale":{"domain":[-110,-50],"nice":false,"zero":false},
       "axis":{"orient":"right","values":[-110,-100,-90,-80,-70,-60,-50],"tickSize":-5,"labels":false,"grid":false,"domain":false,"tickColor":"#8c8c8c","title":null}}
 }},
{"data":{"name":"barticks"},
 "mark":{"type":"rule","strokeWidth":2,"color":"#000000"},
 "encoding":{
  "x":{"field":"x","type":"quantitative","scale":{"domain":[0,60],"nice":false,"zero":false},"axis":null},
  "y":{"field":"y","type":"quantitative","scale":{"domain":[-110,-50],"nice":false,"zero":false},"axis":null},
  "y2":{"field":"y2"}
 }},
{"data":{"name":"lab"},
 "mark":{"type":"text","fontSize":27,"font":"Liberation Sans","color":"#000000","align":"center","baseline":"middle"},
 "encoding":{
  "x":{"field":"x","type":"quantitative","scale":{"domain":[0,60],"nice":false,"zero":false},"axis":null},
  "y":{"field":"y","type":"quantitative","scale":{"domain":[-110,-50],"nice":false,"zero":false},"axis":null},
  "text":{"field":"label"}
 }}
],
"resolve":{"axis":{"x":"independent","y":"independent"}}
}
